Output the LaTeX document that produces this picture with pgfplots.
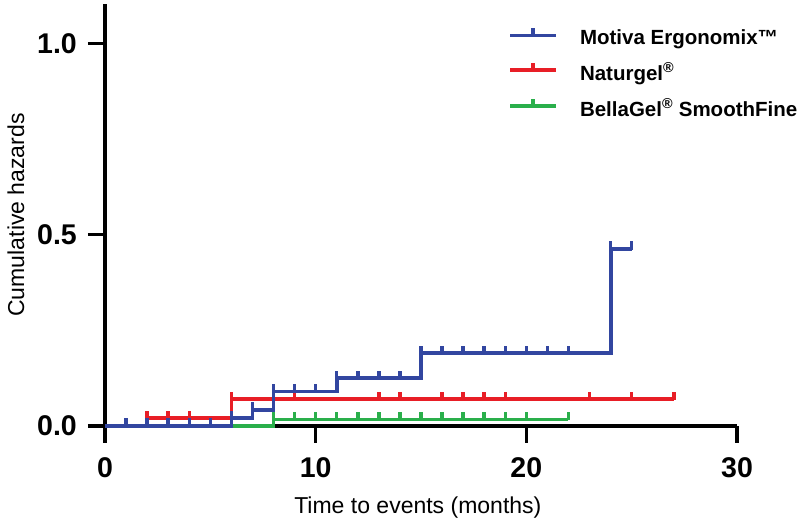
\documentclass[border=0pt]{standalone}
\usepackage{pgfplots}
\pgfplotsset{compat=1.18}
\usepackage{fontspec}
\setmainfont{Liberation Sans}
\definecolor{cblue}{RGB}{50,70,160}
\definecolor{cred}{RGB}{232,30,38}
\definecolor{cgreen}{RGB}{42,175,75}
\pgfdeclareplotmark{cens}{\pgfpathmoveto{\pgfqpoint{0pt}{-1bp}}\pgfpathlineto{\pgfqpoint{0pt}{7.5bp}}\pgfusepathqstroke}
\begin{document}
\begin{tikzpicture}
\path[use as bounding box] (0,0) rectangle (800bp,522bp);
\begin{axis}[
  at={(105bp,96bp)}, anchor=south west,
  scale only axis, width=632bp, height=422bp,
  xmin=0, xmax=30, ymin=0, ymax=1.103,
  axis lines=left,
  axis line style={-, line width=3.5bp, black},
  xtick={0,10,20,30}, xticklabels={0,10,20,30},
  ytick={0,0.5,1}, yticklabels={0.0,0.5,1.0},
  tick align=outside,
  major tick length=17bp,
  tick style={line width=3.5bp, black},
  tick label style={font=\fontsize{28.5bp}{32bp}\selectfont\bfseries},
  xticklabel style={inner sep=0pt, yshift=-14bp},
  yticklabel style={inner sep=0pt, xshift=-11bp},
  xlabel={Time to events (months)},
  ylabel={Cumulative hazards},
  label style={font=\fontsize{23bp}{26bp}\selectfont},
  xlabel style={at={(axis description cs:0.495,-0.2085)}, anchor=base},
  ylabel style={at={(axis description cs:-0.1408,0.5)}, anchor=center, rotate=0},
  legend style={at={(axis description cs:0.6377,0.948)}, anchor=north west,
    draw=none, fill=none, inner sep=0pt, row sep=15bp,
    font=\fontsize{20.5bp}{24bp}\selectfont\bfseries,
    nodes={inner sep=0pt},
    /tikz/every odd column/.append style={column sep=22bp}},
  legend cell align=left,
  legend image code/.code={
    \draw[#1] (0bp,2bp) -- (46bp,2bp);
    \draw[#1] (23bp,2bp) -- (23bp,9.5bp);},
  clip=false,
]
\addplot[cgreen, line width=3.8bp, const plot, forget plot] coordinates {
(0,0) (8,0.017) (22,0.017)};
\addplot[cgreen, only marks, mark=cens, mark options={line width=3.5bp}, forget plot] coordinates {
(8,0.017) (9,0.017) (10,0.017) (11,0.017) (12,0.017) (13,0.017) (14,0.017)
(15,0.017) (16,0.017) (17,0.017) (18,0.017) (19,0.017) (20,0.017) (22,0.017)};
\addplot[cred, line width=3.8bp, const plot, forget plot] coordinates {
(0,0) (2,0.02) (6,0.07) (27,0.07)};
\addplot[cred, only marks, mark=cens, mark options={line width=3.5bp}, forget plot] coordinates {
(2,0.02) (3,0.02) (4,0.02) (6,0.07) (9,0.07) (13,0.07) (14,0.07) (16,0.07)
(17,0.07) (18,0.07) (19,0.07) (23,0.07) (25,0.07) (27,0.07)};
\addplot[cblue, line width=3.8bp, const plot, forget plot] coordinates {
(0,0) (6,0.02) (7,0.042) (8,0.09) (11,0.125) (15,0.19) (24,0.463) (25,0.463)};
\addplot[cblue, only marks, mark=cens, mark options={line width=3.5bp}, forget plot] coordinates {
(1,0) (2,0) (3,0) (4,0) (5,0) (6,0.02) (7,0.042) (8,0.09) (9,0.09) (10,0.09)
(11,0.125) (12,0.125) (13,0.125) (14,0.125) (15,0.19) (16,0.19) (17,0.19)
(18,0.19) (19,0.19) (20,0.19) (21,0.19) (22,0.19) (24,0.463) (25,0.463)};
\addlegendimage{cblue, line width=3.8bp}
\addlegendentry{Motiva Ergonomix™}
\addlegendimage{cred, line width=3.8bp}
\addlegendentry{Naturgel\textsuperscript{®}}
\addlegendimage{cgreen, line width=3.8bp}
\addlegendentry{BellaGel\textsuperscript{®} SmoothFine}
\end{axis}
\end{tikzpicture}
\end{document}
